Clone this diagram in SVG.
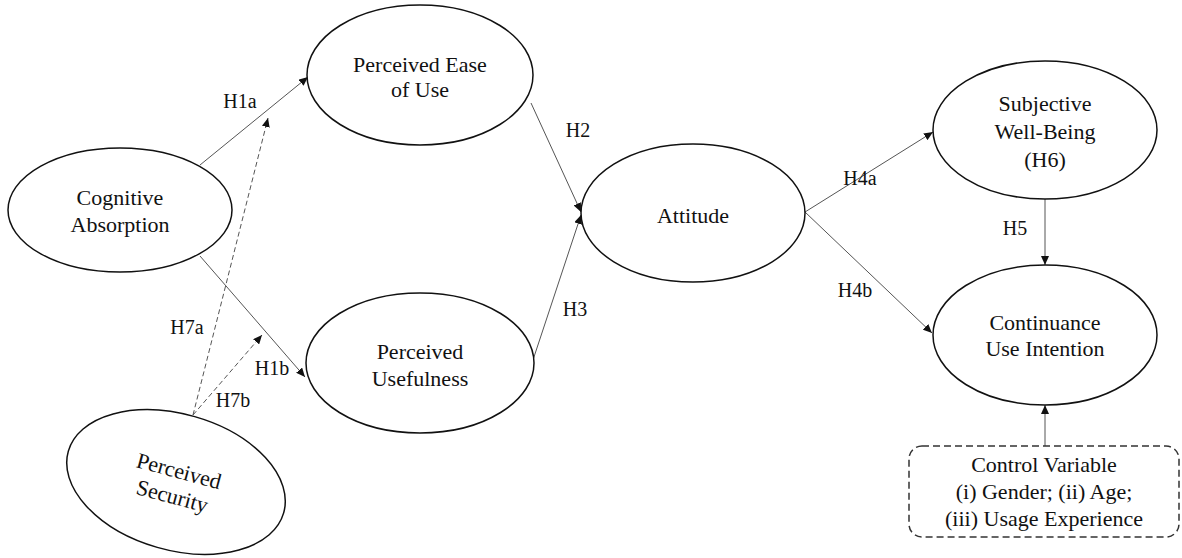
<svg xmlns="http://www.w3.org/2000/svg" width="1182" height="558" viewBox="0 0 1182 558">
<style>
.node{fill:#fff;stroke:#111;stroke-width:1.5}
.t{font-family:"Liberation Serif","Times New Roman",serif;font-size:22px;fill:#111;text-anchor:middle}
.lbl{font-family:"Liberation Serif","Times New Roman",serif;font-size:20px;fill:#111;text-anchor:middle}
.c{fill:none;stroke:#555;stroke-width:1}
.d{fill:none;stroke:#555;stroke-width:1;stroke-dasharray:5,3}
.box{fill:#fff;stroke:#333;stroke-width:1.5;stroke-dasharray:7,4}
</style>
<defs>
<marker id="ah" markerUnits="userSpaceOnUse" markerWidth="9" markerHeight="8" refX="9" refY="4" orient="auto">
<path d="M0,0 L9,4 L0,8 z" fill="#111"/>
</marker>
</defs>
<rect width="1182" height="558" fill="#fff"/>
<g id="connectors">
<path class="c" d="M200,165 L308,77" marker-end="url(#ah)"/>
<path class="c" d="M200,256 L305,377" marker-end="url(#ah)"/>
<path class="c" d="M531,103 L581,212" marker-end="url(#ah)"/>
<path class="c" d="M527,378 L581,215" marker-end="url(#ah)"/>
<path class="c" d="M805,212 L933,132" marker-end="url(#ah)"/>
<path class="c" d="M805,212 L932,333" marker-end="url(#ah)"/>
<path class="c" d="M1045,199 L1045,265" marker-end="url(#ah)"/>
<path class="c" d="M1045,446 L1045,405" marker-end="url(#ah)"/>
<path class="d" d="M193,415 L268,118" marker-end="url(#ah)"/>
<path class="d" d="M193,415 L262,335" marker-end="url(#ah)"/>
<text class="lbl" x="240" y="108">H1a</text>
<text class="lbl" x="272" y="375">H1b</text>
<text class="lbl" x="578" y="137">H2</text>
<text class="lbl" x="575" y="316">H3</text>
<text class="lbl" x="860" y="185">H4a</text>
<text class="lbl" x="855" y="297">H4b</text>
<text class="lbl" x="1015" y="235">H5</text>
<text class="lbl" x="187" y="334">H7a</text>
<text class="lbl" x="233" y="407">H7b</text>
</g>
<g id="cognitive-absorption">
<ellipse class="node" cx="120" cy="210" rx="112" ry="62"/>
<text class="t" x="120" y="205">Cognitive</text>
<text class="t" x="120" y="232">Absorption</text>
</g>
<g id="perceived-security">
<ellipse class="node" cx="0" cy="0" rx="112" ry="68" transform="translate(176,482) rotate(16)"/>
<g transform="translate(176,482) rotate(15)">
<text class="t" x="0" y="-4">Perceived</text>
<text class="t" x="0" y="22">Security</text>
</g>
</g>
<g id="perceived-ease-of-use">
<ellipse class="node" cx="420" cy="75" rx="113" ry="70"/>
<text class="t" x="420" y="72">Perceived Ease</text>
<text class="t" x="420" y="97">of Use</text>
</g>
<g id="perceived-usefulness">
<ellipse class="node" cx="420" cy="363" rx="114" ry="70"/>
<text class="t" x="420" y="359">Perceived</text>
<text class="t" x="420" y="386">Usefulness</text>
</g>
<g id="attitude">
<ellipse class="node" cx="693" cy="213" rx="112" ry="69"/>
<text class="t" x="693" y="223">Attitude</text>
</g>
<g id="subjective-well-being">
<ellipse class="node" cx="1045" cy="130" rx="112" ry="69"/>
<text class="t" x="1045" y="111">Subjective</text>
<text class="t" x="1045" y="139">Well-Being</text>
<text class="t" x="1045" y="167">(H6)</text>
</g>
<g id="continuance-use-intention">
<ellipse class="node" cx="1045" cy="335" rx="112" ry="70"/>
<text class="t" x="1045" y="330">Continuance</text>
<text class="t" x="1045" y="356">Use Intention</text>
</g>
<g id="control-variable">
<rect class="box" x="909" y="446" width="270" height="91" rx="13"/>
<text class="t" x="1044" y="472">Control Variable</text>
<text class="t" x="1044" y="499">(i) Gender; (ii) Age;</text>
<text class="t" x="1044" y="526">(iii) Usage Experience</text>
</g>
</svg>
